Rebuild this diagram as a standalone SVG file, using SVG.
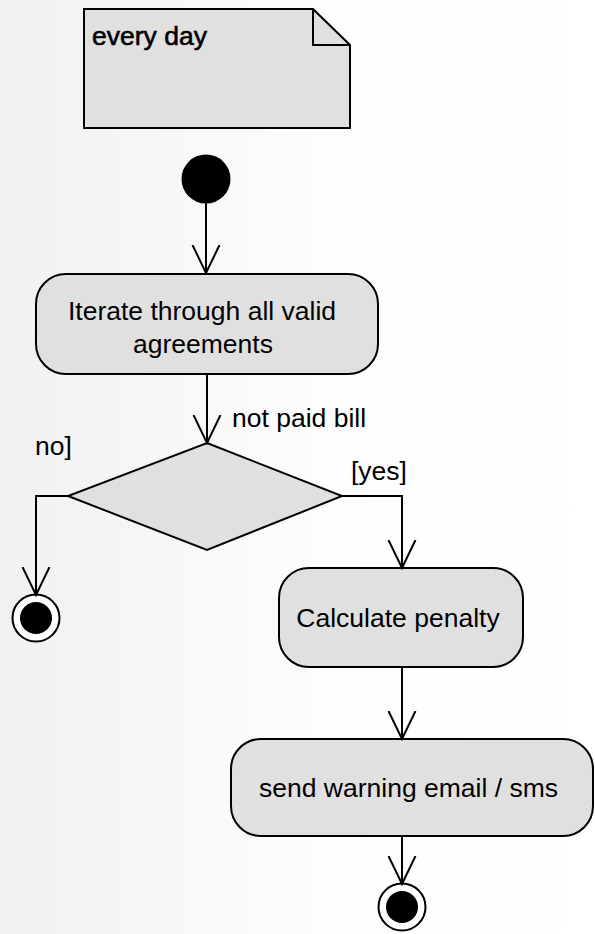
<svg xmlns="http://www.w3.org/2000/svg" width="595" height="934" viewBox="0 0 595 934">
<defs>
<linearGradient id="bg" x1="0" y1="0" x2="1" y2="0">
<stop offset="0" stop-color="#f1f1f1"/>
<stop offset="0.55" stop-color="#fdfdfd"/>
<stop offset="1" stop-color="#ffffff"/>
</linearGradient>
<marker id="arr" viewBox="0 0 30 30" refX="28" refY="15" markerWidth="30" markerHeight="30" markerUnits="userSpaceOnUse" orient="auto">
<path d="M0,1.5 L28,15 L0,28.5" fill="none" stroke="#000" stroke-width="2"/>
</marker>
</defs>
<style>
.shape{fill:#e0e0e0;stroke:#000;stroke-width:2}
.line{fill:none;stroke:#000;stroke-width:2;marker-end:url(#arr)}
.t{font-family:"Liberation Sans",Arial,sans-serif;font-size:26.5px;fill:#000}
.c{text-anchor:middle}
</style>
<rect width="595" height="934" fill="url(#bg)"/>
<g id="note">
<path class="shape" d="M84,9 H313 L350,45 V128 H84 Z"/>
<path fill="none" stroke="#000" stroke-width="2" d="M313,9 V45 H350"/>
<text class="t" x="92" y="45" style="stroke:#000;stroke-width:0.6px">every day</text>
</g>
<g id="start">
<circle cx="206" cy="179" r="24.5" fill="#000"/>
</g>
<g id="iterate">
<rect class="shape" x="36" y="274" width="342" height="100" rx="30" ry="30"/>
<text class="t c" x="202" y="320">Iterate through all valid</text>
<text class="t c" x="203" y="353">agreements</text>
</g>
<g id="decision">
<path class="shape" d="M207,443 L342,496 L207,550 L68,496 Z"/>
</g>
<g id="end1">
<circle cx="36" cy="618" r="23.5" fill="#fff" stroke="#000" stroke-width="2"/>
<circle cx="36" cy="618" r="16" fill="#000"/>
</g>
<g id="calc">
<rect class="shape" x="279" y="568" width="244" height="99" rx="30" ry="30"/>
<text class="t c" x="398" y="627">Calculate penalty</text>
</g>
<g id="send">
<rect class="shape" x="231" y="739" width="362" height="97" rx="30" ry="30"/>
<text class="t c" x="408.5" y="797">send warning email / sms</text>
</g>
<g id="end2">
<circle cx="402" cy="907" r="23.5" fill="#fff" stroke="#000" stroke-width="2"/>
<circle cx="402" cy="907" r="16" fill="#000"/>
</g>
<g id="connectors">
<path class="line" d="M206,203 V273"/>
<path class="line" d="M207,374 V443"/>
<path class="line" d="M68,496 H36 V595"/>
<path class="line" d="M342,496 H402 V568"/>
<path class="line" d="M402,667 V739"/>
<path class="line" d="M402,836 V884"/>
<text class="t" x="232" y="427">not paid bill</text>
<text class="t" x="35" y="455">no]</text>
<text class="t" x="351" y="480">[yes]</text>
</g>
</svg>
